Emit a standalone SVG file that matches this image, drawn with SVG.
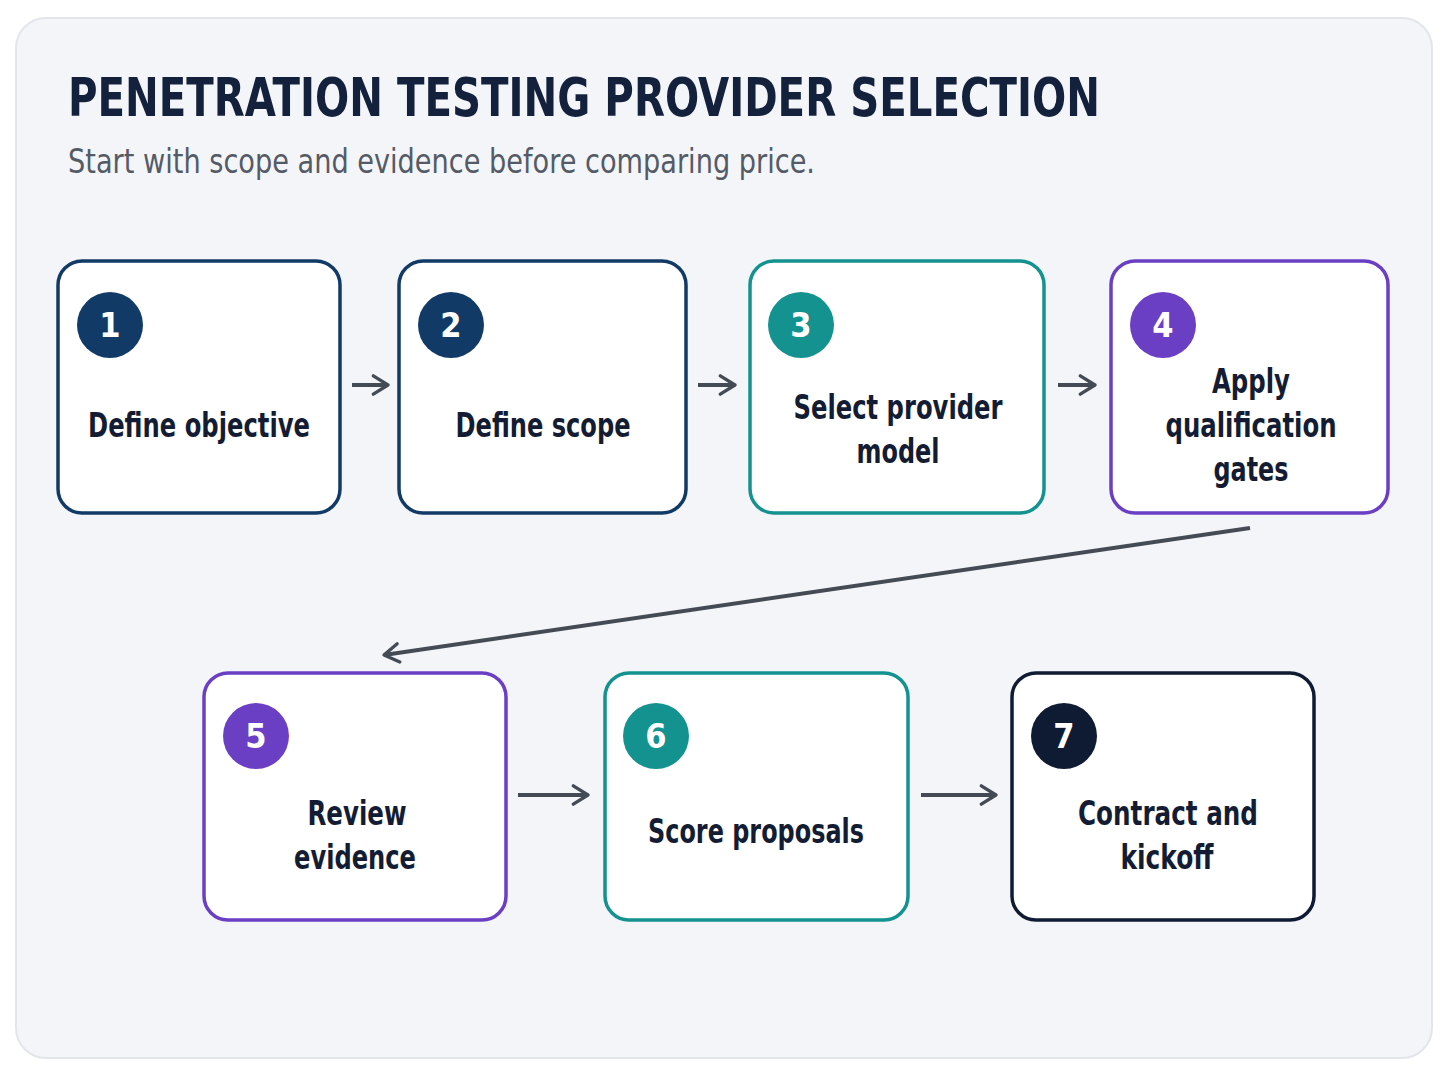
<svg xmlns="http://www.w3.org/2000/svg" width="1448" height="1086" viewBox="0 0 1448 1086">
<defs>
<marker id="ah2" viewBox="0 0 12 12" refX="10" refY="6" markerWidth="22" markerHeight="22" markerUnits="userSpaceOnUse" orient="auto"><path d="M2,1 L10,6 L2,11" fill="none" stroke="#454b55" stroke-width="1.8" stroke-linecap="round" stroke-linejoin="round"/></marker>
</defs>
<style>
text{font-family:"DejaVu Sans Condensed","DejaVu Sans",sans-serif;font-weight:bold}
.box{fill:#fff;stroke-width:3.5}
.lbl{font-size:33px;fill:#141c33;text-anchor:middle}
.num{font-size:34px;fill:#fff;text-anchor:middle}
.c{stroke:#454b55;stroke-width:4;fill:none}
</style>
<rect x="16" y="18" width="1416" height="1040" rx="30" fill="#f3f5f8" stroke="#e2e5ea" stroke-width="2"/>
<text x="68" y="116" font-size="54" fill="#14213d" textLength="1032" lengthAdjust="spacingAndGlyphs">PENETRATION TESTING PROVIDER SELECTION</text>
<text x="68" y="173" font-size="33" fill="#555b66" style="font-weight:normal" textLength="747" lengthAdjust="spacingAndGlyphs">Start with scope and evidence before comparing price.</text>
<g id="connectors">
<line class="c" x1="352" y1="385" x2="388" y2="385" marker-end="url(#ah2)"/>
<line class="c" x1="698" y1="385" x2="735" y2="385" marker-end="url(#ah2)"/>
<line class="c" x1="1058" y1="385" x2="1095" y2="385" marker-end="url(#ah2)"/>
<line class="c" x1="1250" y1="528" x2="384" y2="655" marker-end="url(#ah2)"/>
<line class="c" x1="518" y1="795" x2="588" y2="795" marker-end="url(#ah2)"/>
<line class="c" x1="921" y1="795" x2="996" y2="795" marker-end="url(#ah2)"/>
</g>
<g id="n1"><rect class="box" x="58" y="261" width="282" height="252" rx="24" stroke="#123a66"/><circle cx="110" cy="325" r="33" fill="#123a66"/><text class="num" x="110" y="337">1</text><text class="lbl" x="199" y="437" textLength="222" lengthAdjust="spacingAndGlyphs">Define objective</text></g>
<g id="n2"><rect class="box" x="399" y="261" width="287" height="252" rx="24" stroke="#123a66"/><circle cx="451" cy="325" r="33" fill="#123a66"/><text class="num" x="451" y="337">2</text><text class="lbl" x="543" y="437" textLength="175" lengthAdjust="spacingAndGlyphs">Define scope</text></g>
<g id="n3"><rect class="box" x="750" y="261" width="294" height="252" rx="24" stroke="#13928f"/><circle cx="801" cy="325" r="33" fill="#13928f"/><text class="num" x="801" y="337">3</text><text class="lbl" x="898" y="419" textLength="209" lengthAdjust="spacingAndGlyphs">Select provider</text><text class="lbl" x="898" y="463" textLength="83" lengthAdjust="spacingAndGlyphs">model</text></g>
<g id="n4"><rect class="box" x="1111" y="261" width="277" height="252" rx="24" stroke="#6b3fc4"/><circle cx="1163" cy="325" r="33" fill="#6b3fc4"/><text class="num" x="1163" y="337">4</text><text class="lbl" x="1251" y="393" textLength="78" lengthAdjust="spacingAndGlyphs">Apply</text><text class="lbl" x="1251" y="437" textLength="171" lengthAdjust="spacingAndGlyphs">qualification</text><text class="lbl" x="1251" y="481" textLength="75" lengthAdjust="spacingAndGlyphs">gates</text></g>
<g id="n5"><rect class="box" x="204" y="673" width="302" height="247" rx="24" stroke="#6b3fc4"/><circle cx="256" cy="736" r="33" fill="#6b3fc4"/><text class="num" x="256" y="748">5</text><text class="lbl" x="357" y="825" textLength="99" lengthAdjust="spacingAndGlyphs">Review</text><text class="lbl" x="355" y="869" textLength="122" lengthAdjust="spacingAndGlyphs">evidence</text></g>
<g id="n6"><rect class="box" x="605" y="673" width="303" height="247" rx="24" stroke="#13928f"/><circle cx="656" cy="736" r="33" fill="#13928f"/><text class="num" x="656" y="748">6</text><text class="lbl" x="756" y="843" textLength="216" lengthAdjust="spacingAndGlyphs">Score proposals</text></g>
<g id="n7"><rect class="box" x="1012" y="673" width="302" height="247" rx="24" stroke="#0f1a33"/><circle cx="1064" cy="736" r="33" fill="#0f1a33"/><text class="num" x="1064" y="748">7</text><text class="lbl" x="1168" y="825" textLength="180" lengthAdjust="spacingAndGlyphs">Contract and</text><text class="lbl" x="1167" y="869" textLength="93" lengthAdjust="spacingAndGlyphs">kickoff</text></g>
</svg>
